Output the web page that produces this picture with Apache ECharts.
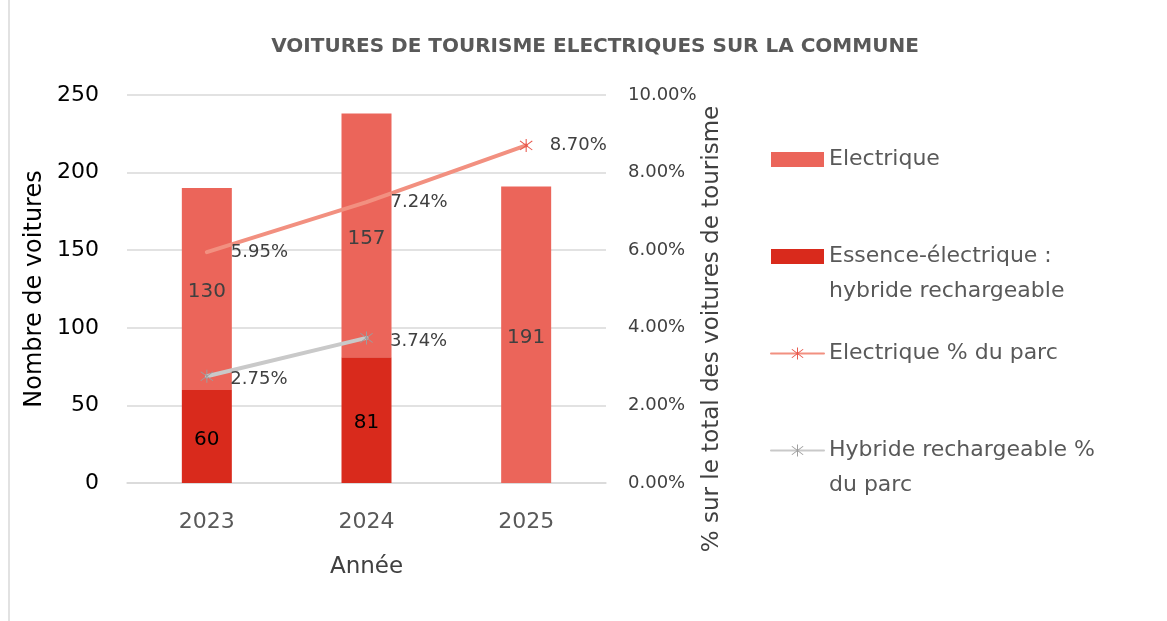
<!DOCTYPE html>
<html>
<head>
<meta charset="utf-8">
<script src="https://cdn.jsdelivr.net/npm/echarts@6/dist/echarts.min.js"></script>
<style>html,body{margin:0;padding:0;background:#fff;}#c{width:1167px;height:621px;}</style>
</head>
<body>
<div id="c"></div>
<script>
const categories = ['2023', '2024', '2025'];
const essenceElec = [60, 81, null];
const electrique = [130, 157, 191];
const elecPct = [5.95, 7.24, 8.70];
const hybridPct = [2.75, 3.74, null];
const leftTicks = [0, 50, 100, 150, 200, 250];
const rightTicks = [0, 2, 4, 6, 8, 10];

const FONT = 'DejaVu Sans';
const ASTER = 'path://M47 0L53 0L53 100L47 100Z M12.9 17.1L17.1 12.9L87.1 82.9L82.9 87.1Z M82.9 12.9L87.1 17.1L17.1 87.1L12.9 82.9Z';

const legendText = {
  'Electrique': 'Electrique',
  'Essence-électrique : hybride rechargeable': '\nEssence-électrique :\nhybride rechargeable',
  'Electrique % du parc': 'Electrique % du parc',
  'Hybride rechargeable % du parc': '\nHybride rechargeable %\ndu parc'
};

const chart = echarts.init(document.getElementById('c'), null, {renderer: 'canvas'});
chart.setOption({
  backgroundColor: '#fff',
  textStyle: {fontFamily: FONT},
  animation: false,
  title: {
    text: 'VOITURES DE TOURISME ELECTRIQUES SUR LA COMMUNE',
    left: 590, top: 32, textAlign: 'center',
    textStyle: {fontFamily: FONT, fontWeight: 'bold', fontSize: 20, color: '#595959'}
  },
  grid: {left: 127, right: 561, top: 95, bottom: 138},
  legend: {
    orient: 'vertical', left: 765, top: 137,
    itemWidth: 53, itemHeight: 15, itemGap: 27,
    data: [
      {name: 'Electrique', icon: 'rect'},
      {name: 'Essence-électrique : hybride rechargeable', icon: 'rect'},
      {name: 'Electrique % du parc'},
      {name: 'Hybride rechargeable % du parc'}
    ],
    formatter: n => legendText[n],
    textStyle: {fontFamily: FONT, fontSize: 22, color: '#595959', lineHeight: 35}
  },
  xAxis: {
    type: 'category', data: categories,
    name: 'Année', nameLocation: 'middle', nameGap: 73,
    nameTextStyle: {fontFamily: FONT, fontSize: 23, color: '#404040'},
    axisLine: {lineStyle: {color: '#d9d9d9', width: 1.5}},
    axisTick: {show: false},
    axisLabel: {fontFamily: FONT, fontSize: 22, color: '#595959', margin: 28}
  },
  yAxis: [{
    type: 'value', min: 0, max: 250, interval: 50,
    name: 'Nombre de voitures', nameLocation: 'middle', nameGap: 80,
    nameTextStyle: {fontFamily: FONT, fontSize: 24, color: '#000'},
    axisLine: {show: false}, axisTick: {show: false},
    axisLabel: {fontFamily: FONT, fontSize: 22, color: '#000', margin: 28},
    splitLine: {lineStyle: {color: '#d9d9d9', width: 1.5}}
  }, {
    type: 'value', min: 0, max: 10, interval: 2,
    name: '% sur le total des voitures de tourisme', nameLocation: 'middle', nameGap: 81,
    nameTextStyle: {fontFamily: FONT, fontSize: 23, color: '#404040', padding: [0, 80, 0, 0]},
    axisLine: {show: false}, axisTick: {show: false},
    axisLabel: {fontFamily: FONT, fontSize: 18, color: '#404040', margin: 22, formatter: v => v.toFixed(2) + '%'},
    splitLine: {show: false}
  }],
  series: [{
    name: 'Essence-électrique : hybride rechargeable', type: 'bar', stack: 'v',
    data: essenceElec, barWidth: 50,
    itemStyle: {color: '#d92a1c'},
    label: {show: true, position: 'inside', offset: [0, 3], fontFamily: FONT, fontSize: 20, color: '#000'}
  }, {
    name: 'Electrique', type: 'bar', stack: 'v',
    data: electrique, barWidth: 50,
    itemStyle: {color: '#eb655a'},
    label: {show: true, position: 'inside', offset: [0, 3], fontFamily: FONT, fontSize: 20, color: '#404040'}
  }, {
    name: 'Electrique % du parc', type: 'line', yAxisIndex: 1,
    data: elecPct.map((v, i) => i === elecPct.length - 1
      ? {value: v, label: {distance: 17}}
      : {value: v, symbolSize: 0}),
    symbol: ASTER, symbolSize: 13, showAllSymbol: true,
    lineStyle: {color: '#f29080', width: 4, cap: 'round'},
    itemStyle: {color: '#e8554a'},
    label: {show: true, position: 'right', distance: 24, offset: [0, 3], fontFamily: FONT, fontSize: 18, color: '#404040', formatter: p => p.value.toFixed(2) + '%'},
    labelLayout: {hideOverlap: false},
    z: 5
  }, {
    name: 'Hybride rechargeable % du parc', type: 'line', yAxisIndex: 1,
    data: hybridPct,
    symbol: ASTER, symbolSize: 13,
    lineStyle: {color: '#c9c9c9', width: 4, cap: 'round'},
    itemStyle: {color: '#9d9d9d'},
    label: {show: true, position: 'right', distance: 17, offset: [0, 3], fontFamily: FONT, fontSize: 18, color: '#404040', formatter: p => p.value.toFixed(2) + '%'},
    z: 5
  }],
  graphic: [{
    type: 'line', shape: {x1: 9, y1: 0, x2: 9, y2: 621},
    style: {stroke: '#d9d9d9', lineWidth: 1.5}
  }]
});
</script>
</body>
</html>
